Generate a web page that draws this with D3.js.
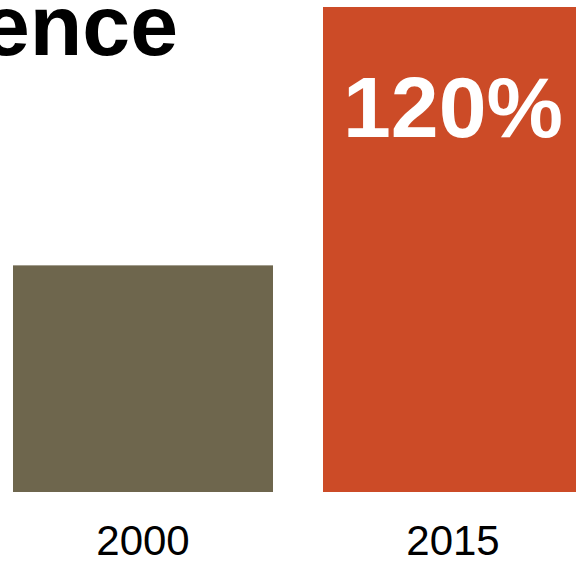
<!DOCTYPE html>
<html>
<head>
<meta charset="utf-8">
<script src="https://cdn.jsdelivr.net/npm/d3@7"></script>
<style>
  html, body { margin: 0; padding: 0; background: #fff; overflow: hidden; }
  svg { display: block; font-family: "Liberation Sans", Arial, Helvetica, sans-serif; }
</style>
</head>
<body>
<svg id="chart" width="576" height="563"></svg>
<script>
  // data (2000 = index 100)
  var years = ["2000", "2015"];
  var values = [100, 214];
  var barColors = ["#6e664d", "#cc4b27"];
  var titleText = "ence";
  var changeLabel = "120%";

  var width = 576;
  var height = 563;
  var baseY = 492;

  var svg = d3.select("svg#chart");

  var x = d3.scaleBand()
    .domain(years)
    .range([13, 583])
    .paddingInner(50 / 310)
    .paddingOuter(0);

  var y = d3.scaleLinear()
    .domain([0, 214])
    .range([baseY, 7]);

  // bars
  svg.selectAll("rect.bar")
    .data(values)
    .enter().append("rect")
    .attr("class", "bar")
    .attr("x", function(d, i) { return x(years[i]); })
    .attr("y", function(d) { return y(d); })
    .attr("width", x.bandwidth())
    .attr("height", function(d) { return y(0) - y(d); })
    .style("fill", function(d, i) { return barColors[i]; });

  // value label inside the 2015 bar
  svg.append("text")
    .attr("x", x("2015") + 20)
    .attr("y", 137)
    .style("fill", "#fff")
    .style("font-size", "86px")
    .style("font-weight", "bold")
    .text(changeLabel);

  // title (cropped on the left)
  svg.append("text")
    .attr("x", 178)
    .attr("y", 55)
    .style("text-anchor", "end")
    .style("font-size", "86px")
    .style("font-weight", "bold")
    .style("fill", "#000")
    .text(titleText);

  // year axis
  var axis = svg.append("g")
    .attr("transform", `translate(0, ${baseY})`)
    .call(d3.axisBottom(x).tickSize(0));

  axis.select(".domain").remove();
  axis.selectAll("text")
    .attr("y", 63)
    .attr("dy", 0)
    .style("font-family", "\"Liberation Sans\", Arial, Helvetica, sans-serif")
    .style("font-size", "42px")
    .style("fill", "#000");
</script>
</body>
</html>
